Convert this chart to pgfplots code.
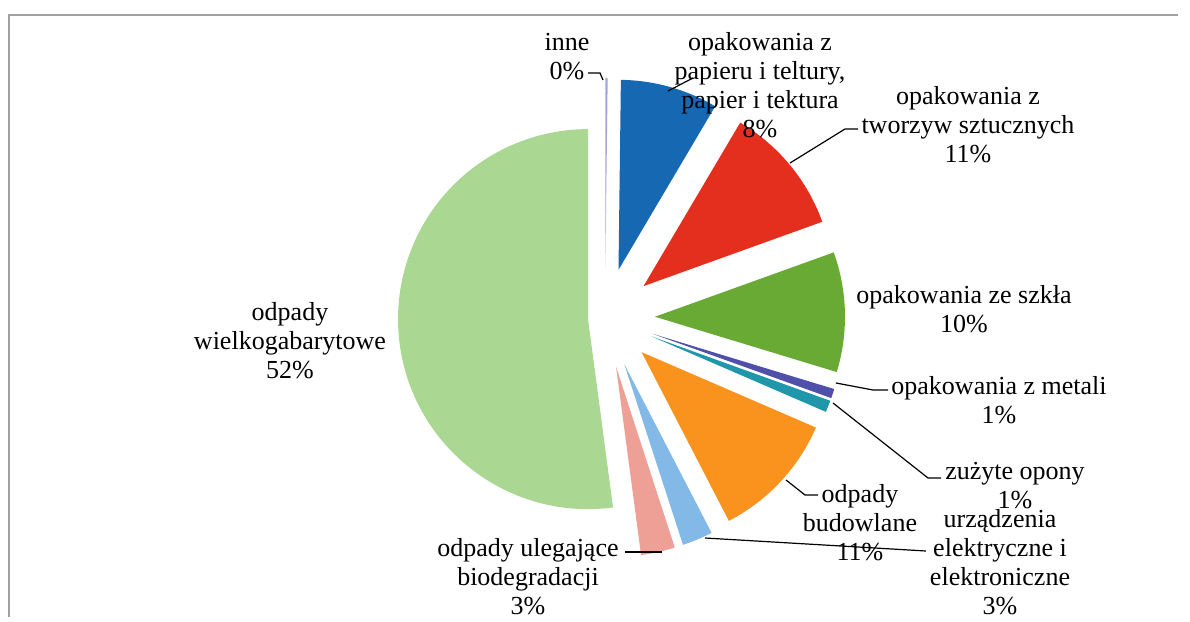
\documentclass[border=0pt]{standalone}
\usepackage{fontspec}
\setmainfont{Liberation Serif}
\usepackage{pgfplots}
\usepackage{pgfplotstable}
\pgfplotsset{compat=1.18}

\definecolor{cinne}{HTML}{A9A4D8}
\definecolor{cpapier}{HTML}{1668B2}
\definecolor{ctworzyw}{HTML}{E42E1E}
\definecolor{cszklo}{HTML}{68AA34}
\definecolor{cmetal}{HTML}{5050AA}
\definecolor{copony}{HTML}{2096AA}
\definecolor{cbud}{HTML}{FA921E}
\definecolor{celektro}{HTML}{82B9E6}
\definecolor{cbio}{HTML}{EEA096}
\definecolor{cwielko}{HTML}{AAD791}
\definecolor{frame}{HTML}{A0A0A0}

% shares in percent, clockwise from 12 o'clock; explode in px
\pgfplotstableread{
value explode colour
0.2  50 cinne
8.3  50 cpapier
11.0 50 ctworzyw
10.2 50 cszklo
0.8  50 cmetal
1.0  50 copony
10.9 50 cbud
2.6  50 celektro
2.9  50 cbio
52.1 17 cwielko
}\piedata

\newcommand{\pieradius}{95pt}
\def\pcx{605}
\def\pcy{299}

\begin{document}
\begin{tikzpicture}[font=\fontsize{13}{14.5}\selectfont]
\begin{axis}[
    scale only axis,
    width=595pt, height=308.5pt,
    xmin=0, xmax=1190, ymin=0, ymax=617,
    axis line style={draw=none},
    xtick=\empty, ytick=\empty,
    axis background/.style={fill=white},
    clip=false
]
% frame of the scanned page
\addplot[frame, line width=0.8pt] coordinates {(9,0) (9,602) (1178,602)};

% wedges
\gdef\cum{0}
\pgfplotstablegetrowsof{\piedata}
\pgfmathtruncatemacro{\lastrow}{\pgfplotsretval-1}
\foreach \i in {0,...,\lastrow}{
  \pgfplotstablegetelem{\i}{value}\of\piedata \let\val\pgfplotsretval
  \pgfplotstablegetelem{\i}{explode}\of\piedata \let\dx\pgfplotsretval
  \pgfplotstablegetelem{\i}{colour}\of\piedata \let\col\pgfplotsretval
  \pgfmathsetmacro{\aA}{\cum*3.6}
  \pgfmathsetmacro{\aB}{(\cum+\val)*3.6}
  \pgfmathsetmacro{\bis}{(\aA+\aB)/2}
  \pgfmathsetmacro{\px}{\pcx+\dx*sin(\bis)}
  \pgfmathsetmacro{\py}{\pcy+\dx*cos(\bis)}
  \pgfmathsetmacro{\tA}{90-\aA}
  \pgfmathsetmacro{\tB}{90-\aB}
  \edef\wedgecmd{\noexpand\fill[\col] (axis cs:\px,\py) -- ++(\tA:\pieradius)
    arc[start angle=\tA, end angle=\tB, radius=\pieradius] -- cycle;}
  \wedgecmd
  \pgfmathsetmacro{\newcum}{\cum+\val}
  \xdef\cum{\newcum}
}

% leader lines
\addplot[black, line width=0.6pt] coordinates {(588,544) (600,544) (603,537)};
\addplot[black, line width=0.6pt] coordinates {(668,526) (693,539)};
\addplot[black, line width=0.6pt] coordinates {(858,488) (845,488) (790,454)};
\addplot[black, line width=0.6pt] coordinates {(836,234) (873,227) (888,227)};
\addplot[black, line width=0.6pt] coordinates {(833,214) (928,139) (941,139)};
\addplot[black, line width=0.6pt] coordinates {(786,137) (805,122) (818,122)};
\addplot[black, line width=0.6pt] coordinates {(705,79) (926,66)};
\addplot[black, line width=0.6pt] coordinates {(625,65) (662,65)};

% labels
\node[align=center] at (axis cs:567,560) {inne\\0\%};
\node[align=center] at (axis cs:760,532) {opakowania z\\papieru i teltury,\\papier i tektura\\8\%};
\node[align=center] at (axis cs:968,492) {opakowania z\\tworzyw sztucznych\\11\%};
\node[align=center] at (axis cs:964,308) {opakowania ze szkła\\10\%};
\node[align=center] at (axis cs:999,217) {opakowania z metali\\1\%};
\node[align=center] at (axis cs:1015,131) {zużyte opony\\1\%};
\node[align=center] at (axis cs:860,94) {odpady\\budowlane\\11\%};
\node[align=center] at (axis cs:1000,55) {urządzenia\\elektryczne i\\elektroniczne\\3\%};
\node[align=center] at (axis cs:528,40) {odpady ulegające\\biodegradacji\\3\%};
\node[align=center] at (axis cs:290,276) {odpady\\wielkogabarytowe\\52\%};
\end{axis}
\end{tikzpicture}
\end{document}
